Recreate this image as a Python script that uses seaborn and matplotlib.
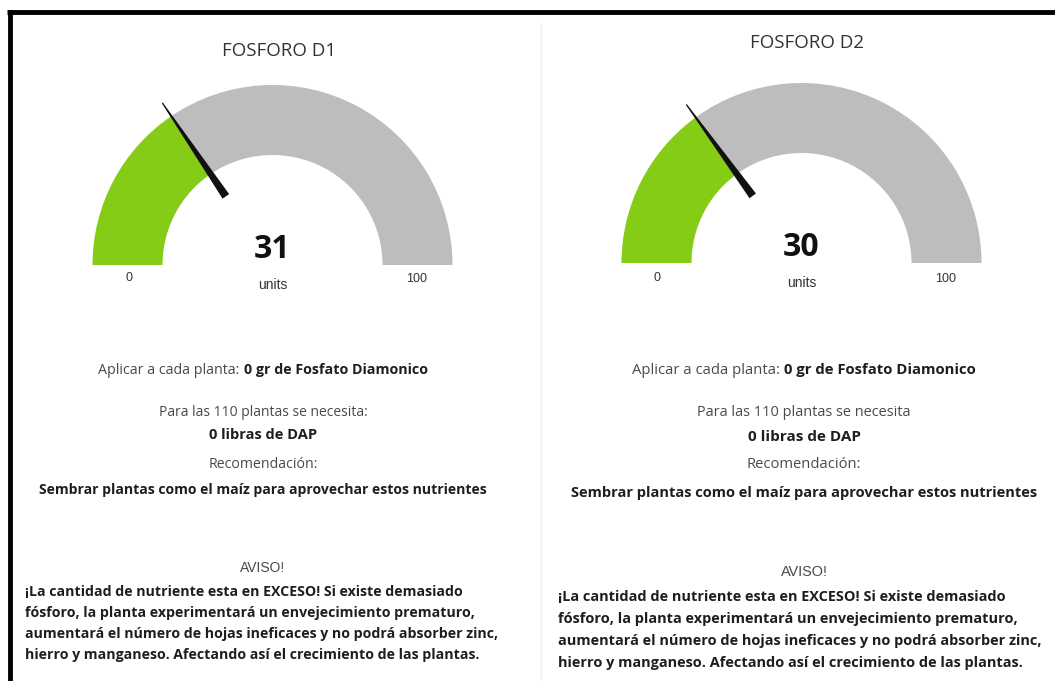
import numpy as np
import matplotlib
matplotlib.use("Agg")
import matplotlib.pyplot as plt
from matplotlib.patches import Wedge, Polygon
import seaborn as sns

# ---- data ----
titles = ["FOSFORO D1", "FOSFORO D2"]
values = [31, 30]
gauge_min = [0, 0]
gauge_max = [100, 100]
unit_label = "units"
dose_label = "Aplicar a cada planta: "
dose_value = ["0 gr de Fosfato Diamonico", "0 gr de Fosfato Diamonico"]
need_label = ["Para las 110 plantas se necesita:", "Para las 110 plantas se necesita"]
need_value = ["0 libras de DAP", "0 libras de DAP"]
rec_label = "Recomendación:"
rec_text = "Sembrar plantas como el maíz para aprovechar estos nutrientes"
warn_label = "AVISO!"
warn_lines = [
    "¡La cantidad de nutriente esta en EXCESO! Si existe demasiado",
    "fósforo, la planta experimentará un envejecimiento prematuro,",
    "aumentará el número de hojas ineficaces y no podrá absorber zinc,",
    "hierro y manganeso. Afectando así el crecimiento de las plantas.",
]

# ---- layout (pixel space, y measured from top) ----
W, H = 1055, 681
centers = [(272.5, 265), (801.5, 263)]
R_OUT, R_IN = 180, 110
panel_cx = [263, 804]
panel_scale = [1.0, 1.045]
para_size = [10.2, 10.45]
title_xy = [(279, 51), (807, 43)]
value_y = [250, 247]
units_y = [285, 283]
minmax_y = [278, 278]
text_rows = [[370, 412, 435, 465, 490, 568], [370, 412, 437, 465, 493, 572]]
warn_x = [25, 558]
warn_y0 = [592, 597]
warn_dy = [21, 22]

GREEN = "#84cc16"
GREY = "#bdbdbd"
DARK = "#1e1e1e"
SOFT = "#4a4a4a"

sns.set_theme(style="white")
plt.rcParams["font.family"] = ["Open Sans", "DejaVu Sans"]

fig = plt.figure(figsize=(W / 100, H / 100), dpi=100)
ax = fig.add_axes([0, 0, 1, 1])
ax.set_xlim(0, W)
ax.set_ylim(0, H)
ax.axis("off")


def Y(y):
    return H - y


# frame lines and panel separator
ax.plot([7, W], [Y(12), Y(12)], color="black", lw=3.5, solid_capstyle="butt")
ax.plot([9.5, 9.5], [Y(10), 0], color="black", lw=3.5, solid_capstyle="butt")
ax.plot([541, 541], [Y(24), 0], color="#f4f4f4", lw=2)

for i in range(2):
    cx, cy = centers[i]
    cy = Y(cy)
    frac = (values[i] - gauge_min[i]) / (gauge_max[i] - gauge_min[i])
    ang = 180 - 180 * frac
    ax.add_patch(Wedge((cx, cy), R_OUT, ang, 180, width=R_OUT - R_IN,
                       facecolor=GREEN, edgecolor="none"))
    ax.add_patch(Wedge((cx, cy), R_OUT, 0, ang, width=R_OUT - R_IN,
                       facecolor=GREY, edgecolor="none"))

    # needle: tapered from inside the arc to just past the outer edge
    t = np.deg2rad(ang)
    d = np.array([np.cos(t), np.sin(t)])
    n = np.array([-d[1], d[0]])
    base = np.array([cx, cy]) + d * 83
    tip = np.array([cx, cy]) + d * 196
    pts = [base + n * 4.0, tip + n * 0.6, tip - n * 0.6, base - n * 4.0]
    ax.add_patch(Polygon(pts, closed=True, facecolor="#111111", edgecolor="none"))

    tx, ty = title_xy[i]
    ax.text(tx, Y(ty), titles[i], ha="center", va="center",
            fontsize=13.5, color="#333333")
    ax.text(cx, Y(value_y[i]), str(values[i]), ha="center", va="center",
            fontsize=23, fontweight="bold", color="#111111")
    ax.text(cx, Y(units_y[i]), unit_label, ha="center", va="center",
            fontsize=10, color="#333333", family=["Liberation Sans"])
    ax.text(cx - (R_OUT + R_IN) / 2 + 1, Y(minmax_y[i]), str(gauge_min[i]),
            ha="center", va="center", fontsize=9, color="#333333",
            family=["Liberation Sans"])
    ax.text(cx + (R_OUT + R_IN) / 2 - 1, Y(minmax_y[i] + 1), str(gauge_max[i]),
            ha="center", va="center", fontsize=9, color="#333333",
            family=["Liberation Sans"])

fig.canvas.draw()
renderer = fig.canvas.get_renderer()


def mixed_line(xc, y, left, right, size):
    a = ax.text(0, Y(y), left, ha="left", va="center", fontsize=size, color=SOFT)
    b = ax.text(0, Y(y), right, ha="left", va="center", fontsize=size,
                fontweight="bold", color=DARK)
    wa = a.get_window_extent(renderer).width
    wb = b.get_window_extent(renderer).width
    x0 = xc - (wa + wb) / 2
    a.set_x(x0)
    b.set_x(x0 + wa)


for i in range(2):
    xc = panel_cx[i]
    s = panel_scale[i]
    r = text_rows[i]
    mixed_line(xc, r[0], dose_label, dose_value[i], 10.3 * s)
    ax.text(xc, Y(r[1]), need_label[i], ha="center", va="center",
            fontsize=10 * s, color=SOFT)
    ax.text(xc, Y(r[2]), need_value[i], ha="center", va="center",
            fontsize=10.5 * s, fontweight="bold", color=DARK)
    ax.text(xc, Y(r[3]), rec_label, ha="center", va="center",
            fontsize=10.2 * s, color=SOFT)
    ax.text(xc, Y(r[4]), rec_text, ha="center", va="center",
            fontsize=10.1 * s, fontweight="bold", color=DARK)
    ax.text(xc, Y(r[5]), warn_label, ha="center", va="center",
            fontsize=10 * s, color=SOFT, family=["Liberation Sans"])
    for k, line in enumerate(warn_lines):
        ax.text(warn_x[i], Y(warn_y0[i] + k * warn_dy[i]), line, ha="left",
                va="center", fontsize=para_size[i], fontweight="bold", color=DARK)

fig.savefig("out.png", dpi=100, facecolor="white")
